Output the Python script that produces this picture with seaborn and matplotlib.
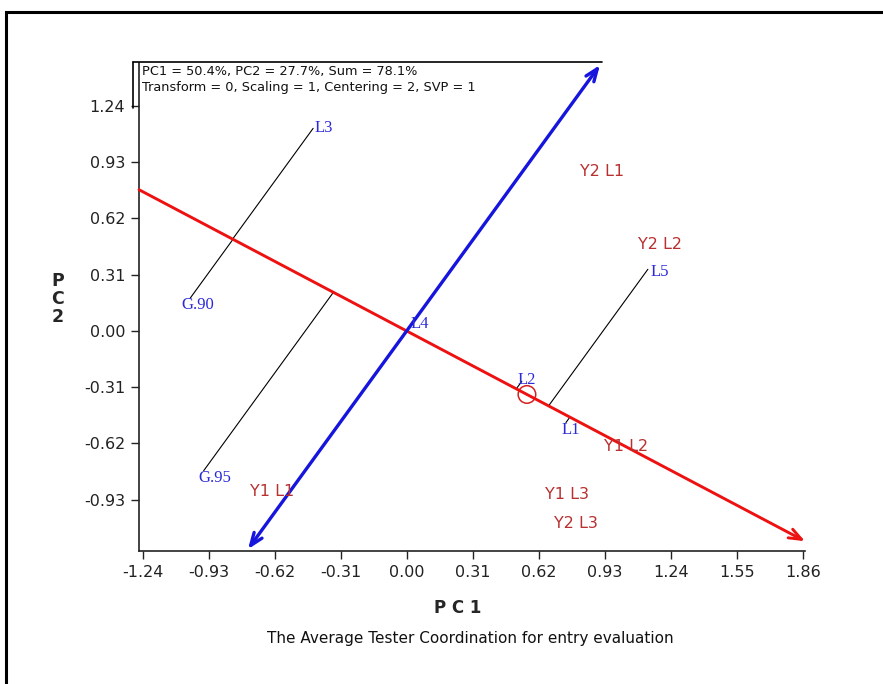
import numpy as np
import matplotlib.pyplot as plt
import matplotlib.patches as mpatches
from matplotlib.lines import Line2D
import seaborn as sns

# genotype scores (blue labels)
gen_names = ["L3", "G.90", "G.95", "L4", "L2", "L1", "L5"]
gen_x = [-0.439, -1.017, -0.953, 0.0, 0.541, 0.748, 1.133]
gen_y = [1.117, 0.180, -0.770, 0.0, -0.277, -0.505, 0.340]

# environment scores (red labels)
env_names = ["Y2 L1", "Y2 L2", "Y1 L2", "Y1 L1", "Y1 L3", "Y2 L3"]
env_x = [0.917, 1.190, 1.030, -0.633, 0.753, 0.796]
env_y = [0.881, 0.478, -0.636, -0.884, -0.901, -1.061]

# average environment
avg_env = (0.565, -0.350)

ticks = [-1.24, -0.93, -0.62, -0.31, 0.00, 0.31, 0.62, 0.93, 1.24, 1.55, 1.86]
yticks = [-0.93, -0.62, -0.31, 0.00, 0.31, 0.62, 0.93, 1.24]
xlim = (-1.257, 1.871)
ylim = (-1.213, 1.477)

sns.set_style("white")
plt.rcParams["font.family"] = ["DejaVu Sans"]

fig = plt.figure(figsize=(8.83, 6.84), dpi=100)
ax = fig.add_axes([0.1574, 0.1944, 0.7543, 0.7135])

# average environment axis through origin and the average environment
slope = avg_env[1] / avg_env[0]
ax.annotate("", xy=(xlim[1], slope * xlim[1]), xytext=(xlim[0], slope * xlim[0]),
            arrowprops=dict(arrowstyle="->,head_length=0.9,head_width=0.35",
                            color="#ee1111", lw=2.1, shrinkA=0, shrinkB=0))

# ATC ordinate, perpendicular through origin
ps = -1 / slope
ax.annotate("", xy=(0.908, ps * 0.908), xytext=(-0.745, ps * -0.745),
            arrowprops=dict(arrowstyle="<->,head_length=0.9,head_width=0.35",
                            color="#1515dd", lw=2.4, shrinkA=0, shrinkB=0))

# projections of the genotypes onto the AEA
u = np.array([1.0, slope]) / np.hypot(1.0, slope)
for gx, gy in zip(gen_x, gen_y):
    d = gx * u[0] + gy * u[1]
    ax.plot([gx, d * u[0]], [gy, d * u[1]], color="black", lw=0.8)

sns.scatterplot(x=[avg_env[0]], y=[avg_env[1]], ax=ax, s=160, marker="o",
                facecolors="none", edgecolors="#d42020", linewidths=1.1, legend=False)

offsets = {"L3": (1, 0), "G.90": (-6, -5), "G.95": (-4, -5), "L4": (3, 5),
           "L2": (-3, 1), "L1": (-3, -5), "L5": (2, -2)}
for name, gx, gy in zip(gen_names, gen_x, gen_y):
    ax.annotate(name, (gx, gy), xytext=offsets[name], textcoords="offset points",
                ha="left", va="center", color="#2a2ad8", fontsize=12,
                family=["Liberation Serif"])

for name, ex, ey in zip(env_names, env_x, env_y):
    ax.text(ex, ey, name, ha="center", va="center", color="#b83030", fontsize=11.5)

ax.set_xlim(*xlim)
ax.set_ylim(*ylim)
ax.set_xticks(ticks)
ax.set_xticklabels([f"{t:.2f}" for t in ticks])
ax.set_yticks(yticks)
ax.set_yticklabels([f"{t:.2f}" for t in yticks])
ax.tick_params(axis="both", direction="out", length=6, width=1, color="#222222",
               labelsize=11.5, labelcolor="#222222", pad=4, bottom=True, left=True)
ax.spines["top"].set_visible(False)
ax.spines["right"].set_visible(False)
for s in ["left", "bottom"]:
    ax.spines[s].set_color("#222222")
    ax.spines[s].set_linewidth(1.2)

W, H = 883, 684
def fx(px): return px / W
def fy(py): return 1 - py / H

# header box
fig.add_artist(Line2D([fx(133), fx(602)], [fy(62), fy(62)], color="black", lw=1.2))
fig.add_artist(Line2D([fx(133), fx(133)], [fy(62), fy(108)], color="black", lw=1.2))
fig.text(fx(142), fy(72), "PC1 = 50.4%, PC2 = 27.7%, Sum = 78.1%", fontsize=9.3,
         va="center", ha="left", color="#111111")
fig.text(fx(142), fy(88), "Transform = 0, Scaling = 1, Centering = 2, SVP = 1", fontsize=9.3,
         va="center", ha="left", color="#111111")

fig.text(fx(458), fy(608), "P C 1", fontsize=12, fontweight="bold", ha="center", va="center")
fig.text(fx(58), fy(299), "P\nC\n2", fontsize=12.5, fontweight="bold", ha="center",
         va="center", linespacing=1.0)
fig.text(fx(470), fy(638), "The Average Tester Coordination for entry evaluation",
         fontsize=11, ha="center", va="center", color="#111111")

# outer frame
fig.add_artist(mpatches.Rectangle((fx(6), -0.05), 1.1, fy(12) + 0.05, fill=False,
                                  edgecolor="black", lw=2.2, transform=fig.transFigure))

fig.savefig("out.png", dpi=100)
